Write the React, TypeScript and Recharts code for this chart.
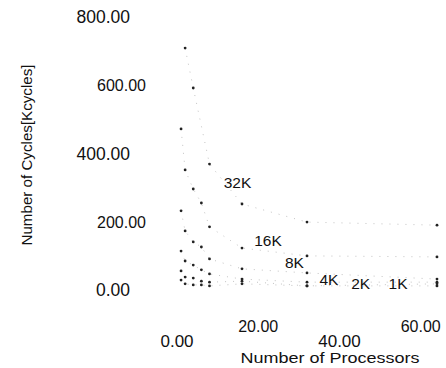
import React from 'react';
import { ComposedChart, Line, Scatter, XAxis, YAxis } from 'recharts';

// processors (x)
const procs = [1, 2, 4, 6, 8, 16, 32, 64];
// cycles [Kcycles] per problem size (null = not visible)
const k32 = [null, 709, 592, null, 369, 252, 199, 190];
const k16 = [472, 352, 296, 255, 185, 123, 100, 97];
const k8 = [232, 173, 141, 126, 91, 62, 50, 32];
const k4 = [114, 85, 73, 59, 47, 32, 23, 23];
const k2 = [56, 38, 35, 26, 23, 26, 12, 18];
const k1 = [29, 18, 15, 15, 12, 18, 12, 12];

const seriesKeys = ['k32', 'k16', 'k8', 'k4', 'k2', 'k1'];
const seriesValues = [k32, k16, k8, k4, k2, k1];

// curve labels (data coordinates)
const labelNames = ['32K', '16K', '8K', '4K', '2K', '1K'];
const labelX = [14.9, 22.4, 28.9, 37.4, 45.2, 54.4];
const labelY = [315, 146, 82, 31, 17.6, 17.6];

const xTicks = [0, 20, 40, 60];
const yTicks = [0, 200, 400, 600, 800];

const data = procs.map((p, i) => {
  const row: any = { p };
  seriesKeys.forEach((k, j) => {
    row[k] = seriesValues[j][i];
  });
  return row;
});

const labelData = labelNames.map((name, i) => ({ p: labelX[i], v: labelY[i], name }));

const FONT = '"Liberation Sans", Arial, Helvetica, sans-serif';

const YTick = (props: any) => {
  const { y, payload, index } = props;
  const big = index % 2 === 0;
  return (
    <text x={big ? 130 : 146} y={y} dy={6} textAnchor="end" fontSize={big ? 17.5 : 16} fontFamily={FONT} fill="#111">
      {Number(payload.value).toFixed(2)}
    </text>
  );
};

const XTick = (props: any) => {
  const { x, payload, index } = props;
  const big = index % 2 === 0;
  return (
    <text x={x} y={big ? 346.5 : 332} textAnchor="middle" fontSize={big ? 17 : 16} fontFamily={FONT} fill="#111">
      {Number(payload.value).toFixed(2)}
    </text>
  );
};

const XTitle = () => (
  <text x={330} y={363} textAnchor="middle" fontSize={14} fontFamily={FONT} fill="#111" textLength={179} lengthAdjust="spacingAndGlyphs">
    Number of Processors
  </text>
);

const YTitle = () => (
  <text x={32} y={155} transform="rotate(-90, 32, 155)" textAnchor="middle" fontSize={15} fontFamily={FONT} fill="#111" textLength={181} lengthAdjust="spacingAndGlyphs">
    Number of Cycles[Kcycles]
  </text>
);

const CurveLabel = (props: any) => {
  const { cx, cy, payload } = props;
  return (
    <text x={cx} y={cy} dy={5.5} textAnchor="middle" fontSize={15.5} fontFamily={FONT} fill="#111">
      {payload.name}
    </text>
  );
};

const SmallDot = (props: any) => {
  const { cx, cy, value } = props;
  if (value === null || value === undefined || cx == null || cy == null) return null;
  return <circle cx={cx} cy={cy} r={1.4} fill="#222" />;
};

export default function App() {
  return (
    <div style={{ position: 'absolute', left: 0, top: 0, width: 446, height: 368, background: '#fff' }}>
      <ComposedChart width={446} height={368} data={data} margin={{ top: 17, right: 9, bottom: 0, left: 0 }}>
        <XAxis
          type="number"
          dataKey="p"
          domain={[0, 64]}
          ticks={xTicks}
          interval={0}
          axisLine={false}
          tickLine={false}
          height={78}
          tick={<XTick />}
          label={<XTitle />}
        />
        <YAxis
          type="number"
          domain={[0, 800]}
          ticks={yTicks}
          interval={0}
          axisLine={false}
          tickLine={false}
          width={177}
          tick={<YTick />}
          label={<YTitle />}
          allowDataOverflow
        />
        {seriesKeys.map((k) => (
          <Line
            key={k}
            dataKey={k}
            type="linear"
            stroke="#b4b4b4"
            strokeWidth={0.8}
            strokeDasharray="1 7"
            connectNulls
            dot={<SmallDot />}
            activeDot={false}
            isAnimationActive={false}
          />
        ))}
        <Scatter data={labelData} dataKey="v" shape={<CurveLabel />} isAnimationActive={false} />
      </ComposedChart>
    </div>
  );
}
